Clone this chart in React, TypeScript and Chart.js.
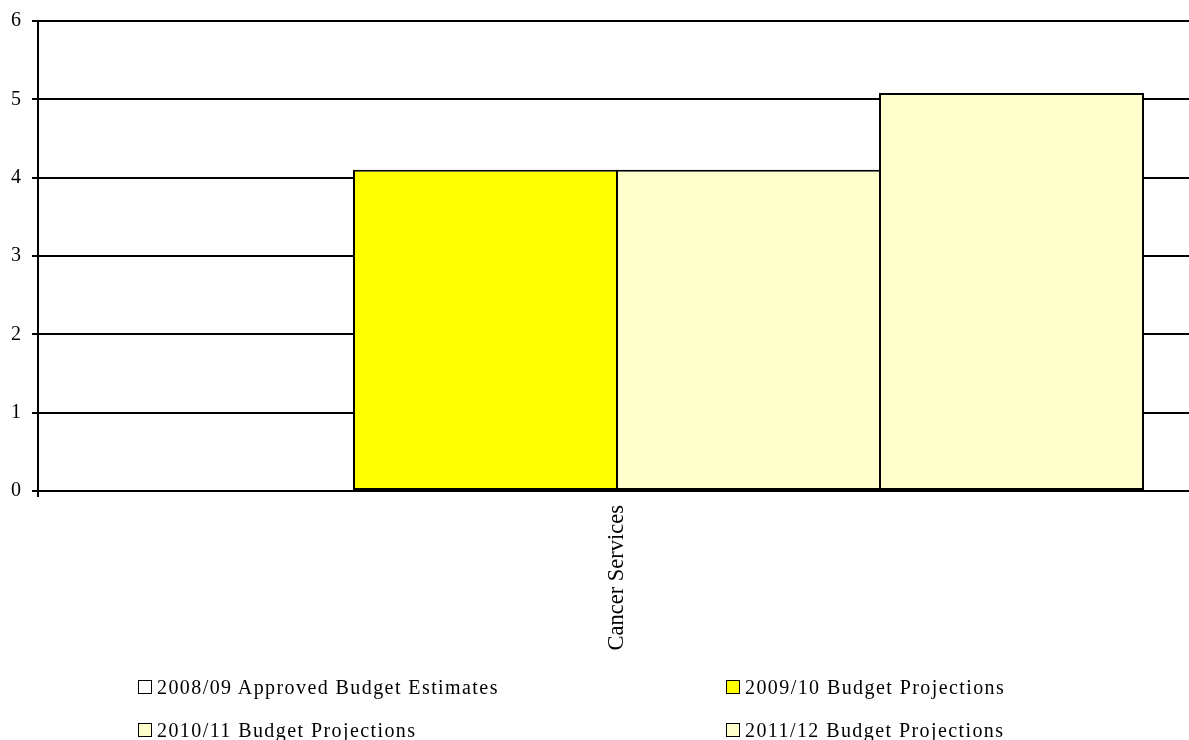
import React, { useEffect, useRef } from "react";
import { Chart, registerables } from "chart.js";

Chart.register(...registerables);

const categories = ["Cancer Services"];
const seriesLabels = [
  "2008/09 Approved Budget Estimates",
  "2009/10 Budget Projections",
  "2010/11 Budget Projections",
  "2011/12 Budget Projections",
];
const values200809 = [0];
const values200910 = [4.1];
const values201011 = [4.1];
const values201112 = [5.08];
const seriesColors = ["#FFFFFF", "#FFFF00", "#FFFFCC", "#FFFFCC"];
const yTickValues = [0, 1, 2, 3, 4, 5, 6];

const FONT = "'Liberation Serif', 'Times New Roman', serif";
const CANVAS_W = 1196;

export default function App() {
  const canvasRef = useRef<HTMLCanvasElement | null>(null);

  useEffect(() => {
    document.body.style.margin = "0";
    const canvas = canvasRef.current;
    if (!canvas) return;
    const seriesValues = [values200809, values200910, values201011, values201112];
    const chart = new Chart(canvas, {
      type: "bar",
      data: {
        labels: categories,
        datasets: seriesValues.map((vals, i) => ({
          label: seriesLabels[i],
          data: vals,
          backgroundColor: seriesColors[i],
          borderColor: "#000000",
          borderWidth: 2,
          borderSkipped: false,
          categoryPercentage: 0.9085,
          barPercentage: 1.0076,
        })),
      },
      options: {
        responsive: false,
        animation: false,
        layout: { padding: { top: 21, right: 0, bottom: 0, left: 0 } },
        plugins: { legend: { display: false }, tooltip: { enabled: false } },
        scales: {
          x: {
            offset: true,
            grid: {
              display: true,
              offset: true,
              drawOnChartArea: false,
              drawTicks: true,
              tickLength: 6,
              lineWidth: 2,
              color: (ctx: any) => (ctx.index === 0 ? "#000000" : "rgba(0,0,0,0)"),
            },
            border: { display: true, color: "#000000", width: 2 },
            ticks: {
              minRotation: 90,
              maxRotation: 90,
              padding: 8,
              color: "#000000",
              font: { family: FONT, size: 22.5 },
            },
            afterFit: (s: any) => {
              s.height = 249;
              s.paddingLeft = 0;
              s.paddingRight = 0;
            },
          },
          y: {
            min: 0,
            max: 6,
            afterBuildTicks: (axis: any) => {
              axis.ticks = yTickValues.map((v) => ({ value: v }));
            },
            grid: { color: "#000000", lineWidth: 2, tickLength: 6 },
            border: { display: true, color: "#000000", width: 2 },
            ticks: {
              padding: 11,
              color: "#000000",
              font: { family: FONT, size: 20 },
            },
            afterFit: (s: any) => {
              s.width = 38;
              s.paddingTop = 10;
              s.paddingBottom = 10;
            },
          },
        },
      },
    });
    return () => chart.destroy();
  }, []);

  const legendPos = [
    { left: 138, top: 687 },
    { left: 726, top: 687 },
    { left: 138, top: 730 },
    { left: 726, top: 730 },
  ];

  return (
    <div style={{ position: "relative", width: 1189, height: 740, overflow: "hidden", background: "#fff" }}>
      <canvas ref={canvasRef} width={CANVAS_W} height={740} style={{ display: "block" }} />
      {seriesLabels.map((label, i) => (
        <div
          key={label}
          style={{
            position: "absolute",
            left: legendPos[i].left,
            top: legendPos[i].top - 12,
            height: 24,
            display: "flex",
            alignItems: "center",
            fontFamily: FONT,
            fontSize: 20,
            color: "#000",
            whiteSpace: "nowrap",
            letterSpacing: "1.42px",
          }}
        >
          <span
            style={{
              display: "inline-block",
              width: 12,
              height: 12,
              border: "1.5px solid #000",
              background: seriesColors[i],
              marginRight: 5,
            }}
          />
          <span>{label}</span>
        </div>
      ))}
    </div>
  );
}
